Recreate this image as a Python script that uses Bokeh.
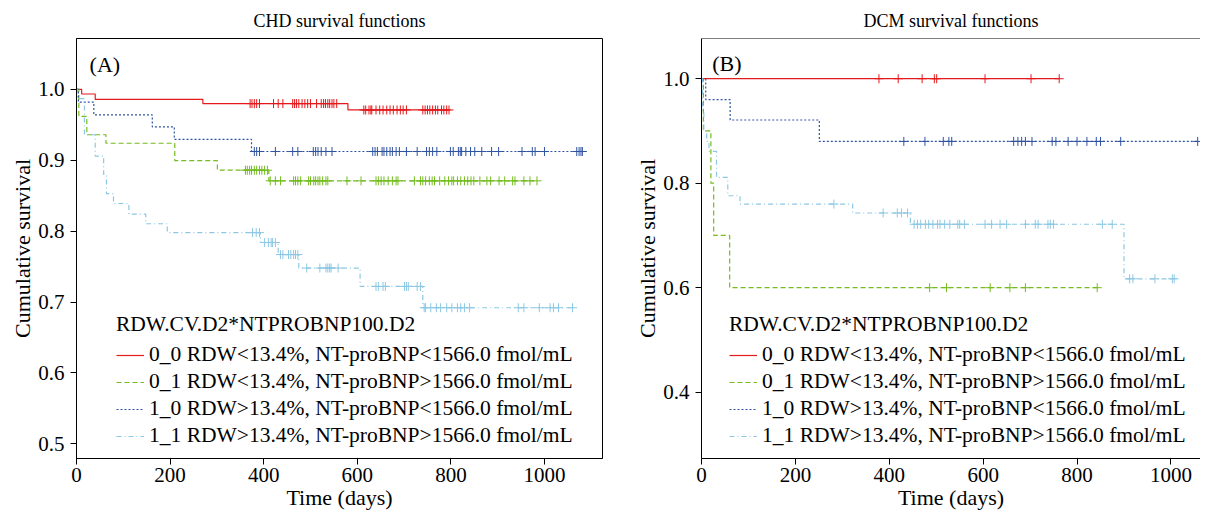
from bokeh.plotting import figure
from bokeh.models import Range1d, Legend, LegendItem, Label, Span, PrintfTickFormatter, FixedTicker
from bokeh.layouts import row
from bokeh.embed import file_html
from bokeh.resources import INLINE

FONT = "Liberation Serif"

group_labels = [
    "0_0 RDW<13.4%, NT-proBNP<1566.0 fmol/mL",
    "0_1 RDW<13.4%, NT-proBNP>1566.0 fmol/mL",
    "1_0 RDW>13.4%, NT-proBNP<1566.0 fmol/mL",
    "1_1 RDW>13.4%, NT-proBNP>1566.0 fmol/mL",
]
group_colors = ["#E41A1C", "#74BC1F", "#2F53A0", "#8CC8E4"]
group_dashes = ["solid", "5 3", "2 2", "5 3 1 3"]
legend_title = "RDW.CV.D2*NTPROBNP100.D2"

x_ticks = [0, 200, 400, 600, 800, 1000]
chd_y_ticks = [0.5, 0.6, 0.7, 0.8, 0.9, 1.0]
dcm_y_ticks = [0.4, 0.6, 0.8, 1.0]

# ---------------- CHD ----------------
chd_00_times = [11, 40, 270, 580]
chd_00_surv = [0.9935, 0.986, 0.980, 0.971]
chd_00_cens = [371, 375, 380, 385, 391, 421, 431, 441, 462, 466, 470, 475, 482, 488, 494, 500,
               513, 523, 528, 532, 537, 541, 546, 550, 556,
               614, 618, 625, 629, 631, 640, 648, 655, 663, 670, 677, 685, 692, 698, 705,
               740, 745, 750, 755, 761, 767, 772, 780, 785, 791, 796]

chd_01_times = [5, 22, 63, 210, 301, 411]
chd_01_surv = [0.962, 0.936, 0.924, 0.8995, 0.886, 0.871]
chd_01_cens = [361, 365, 370, 374, 380, 385, 391, 396, 402, 408,
               414, 425, 436, 464, 468, 473, 479, 496, 500, 507, 511, 516, 520, 526, 533, 537,
               578, 608, 640, 645, 651, 657, 666, 675, 683, 687, 722, 735, 740, 746, 754, 760,
               765, 776, 787, 795, 802, 806, 814, 821, 829, 836, 843, 849, 862, 877, 885, 903,
               915, 932, 937, 956, 969, 984]

chd_10_times = [4, 37, 162, 209, 374]
chd_10_surv = [0.982, 0.964, 0.947, 0.9295, 0.9124]
chd_10_cens = [380, 385, 391, 425, 462, 473, 506, 511, 516, 523, 533, 546, 633, 638, 643, 653,
               657, 663, 670, 675, 683, 690, 705, 728, 748, 754, 761, 770, 799, 805, 816, 820,
               823, 832, 842, 851, 866, 887, 902, 952, 974, 980, 1000, 1069, 1074, 1078, 1081]

chd_11_times = [2, 17, 40, 58, 64, 79, 112, 148, 194, 393, 431, 475, 606, 740]
chd_11_surv = [0.987, 0.936, 0.906, 0.88, 0.853, 0.839, 0.824, 0.8105, 0.798,
               0.784, 0.767, 0.748, 0.722, 0.692]
chd_11_cens = [376, 384, 391, 402, 410, 416, 419, 425, 436, 441, 453, 458, 464, 468, 473,
               492, 520, 533, 537, 541, 544, 559, 640, 645, 655, 660, 701, 705, 709, 728, 735,
               743, 746, 757, 769, 778, 791, 802, 814, 821, 829, 840, 944, 956, 989, 1012,
               1019, 1030, 1060]

# ---------------- DCM ----------------
dcm_00_times = []
dcm_00_surv = []
dcm_00_cens = [378, 419, 470, 496, 501, 604, 702, 762]

dcm_01_times = [4, 20, 26, 60]
dcm_01_surv = [0.90, 0.80, 0.70, 0.60]
dcm_01_cens = [486, 522, 615, 657, 690, 843]

dcm_10_times = [9, 61, 251]
dcm_10_surv = [0.96, 0.921, 0.880]
dcm_10_cens = [431, 476, 515, 527, 533, 665, 674, 682, 690, 704, 747, 755, 781, 800, 821,
               841, 850, 893, 1057]

dcm_11_times = [2, 5, 11, 16, 32, 56, 82, 322, 445, 900]
dcm_11_surv = [0.94, 0.90, 0.88, 0.861, 0.811, 0.776, 0.760, 0.743, 0.7214, 0.617]
dcm_11_cens = [282, 387, 417, 426, 439, 453, 460, 467, 477, 484, 493, 503, 508, 518, 529,
               546, 550, 560, 604, 618, 636, 650, 690, 711, 717, 738, 743, 750, 854, 875,
               912, 919, 966, 1003, 1007]

chd_groups = [
    (chd_00_times, chd_00_surv, chd_00_cens),
    (chd_01_times, chd_01_surv, chd_01_cens),
    (chd_10_times, chd_10_surv, chd_10_cens),
    (chd_11_times, chd_11_surv, chd_11_cens),
]
dcm_groups = [
    (dcm_00_times, dcm_00_surv, dcm_00_cens),
    (dcm_01_times, dcm_01_surv, dcm_01_cens),
    (dcm_10_times, dcm_10_surv, dcm_10_cens),
    (dcm_11_times, dcm_11_surv, dcm_11_cens),
]

HEIGHT = 512
TOP = 38
BOTTOM = 54


def surv_at(t, times, surv):
    s = 1.0
    for tt, ss in zip(times, surv):
        if tt <= t:
            s = ss
    return s


def style_axes(p, yticks):
    for ax in (p.xaxis[0], p.yaxis[0]):
        ax.axis_line_color = "black"
        ax.axis_line_width = 1
        ax.major_tick_line_color = "black"
        ax.major_tick_out = 6
        ax.major_tick_in = 0
        ax.minor_tick_line_color = None
        ax.major_label_text_font = FONT
        ax.major_label_text_font_size = "21px"
        ax.major_label_text_color = "black"
        ax.axis_label_text_font = FONT
        ax.axis_label_text_font_size = "22px"
        ax.axis_label_text_font_style = "normal"
        ax.axis_label_text_color = "black"
    p.xaxis[0].ticker = FixedTicker(ticks=x_ticks)
    p.yaxis[0].ticker = FixedTicker(ticks=yticks)
    p.yaxis[0].formatter = PrintfTickFormatter(format="%.1f")
    p.xaxis[0].major_label_standoff = 3
    p.xaxis[0].axis_label_standoff = 0
    p.yaxis[0].major_label_standoff = 6
    p.yaxis[0].axis_label_standoff = 0
    p.xaxis.axis_label = "Time (days)"
    p.yaxis.axis_label = "Cumulative survival"
    p.xgrid.grid_line_color = None
    p.ygrid.grid_line_color = None
    p.title.text_font = FONT
    p.title.text_font_size = "18px"
    p.title.text_font_style = "normal"
    p.title.text_color = "black"
    p.title.align = "center"
    p.title.standoff = 15


def draw_groups(p, groups):
    items = []
    for (times, surv, cens), lab, col, dash in zip(groups, group_labels, group_colors, group_dashes):
        end = max(cens)
        xs = [0] + list(times) + [end]
        ys = [1.0] + list(surv) + [surv[-1] if surv else 1.0]
        r = p.step(xs, ys, mode="after", line_color=col, line_width=1.2, line_dash=dash)
        cy = [surv_at(t, times, surv) for t in cens]
        p.scatter(cens, cy, marker="cross", size=9, line_color=col, line_width=1)
        items.append(LegendItem(label=lab, renderers=[r]))
    return items


def make_legend(p, items, xoff):
    lg = Legend(items=items, location=(xoff, 10))
    lg.title = legend_title
    lg.title_text_font = FONT
    lg.title_text_font_size = "21.5px"
    lg.title_text_font_style = "normal"
    lg.title_text_color = "black"
    lg.title_standoff = 5
    lg.label_text_font = FONT
    lg.label_text_font_size = "21.5px"
    lg.label_text_color = "black"
    lg.glyph_width = 28
    lg.glyph_height = 22
    lg.label_height = 22
    lg.spacing = 2
    lg.padding = 4
    lg.margin = 0
    lg.label_standoff = 5
    lg.border_line_color = None
    lg.background_fill_alpha = 0
    p.add_layout(lg)


# Left panel
p1 = figure(width=617, height=HEIGHT, x_range=Range1d(0, 1124), y_range=Range1d(0.4793, 1.0718),
            output_backend="svg", toolbar_location=None, title="CHD survival functions",
            min_border_left=76, min_border_right=15, min_border_top=TOP, min_border_bottom=BOTTOM)
style_axes(p1, chd_y_ticks)
p1.outline_line_color = "black"
p1.outline_line_alpha = 1
p1.outline_line_width = 1
items1 = draw_groups(p1, chd_groups)
make_legend(p1, items1, 40)
p1.add_layout(Label(x=28, y=1.035, text="(A)", text_font=FONT, text_font_size="22px",
                    text_color="black", text_baseline="middle", text_align="left"))

# Right panel
p2 = figure(width=583, height=HEIGHT, x_range=Range1d(0, 1063), y_range=Range1d(0.273, 1.077),
            output_backend="svg", toolbar_location=None, title="DCM survival functions",
            min_border_left=84, min_border_right=0, min_border_top=TOP, min_border_bottom=BOTTOM)
style_axes(p2, dcm_y_ticks)
p2.outline_line_color = None
p2.add_layout(Span(location=1.077, dimension="width", line_color="black", line_width=1))
items2 = draw_groups(p2, dcm_groups)
make_legend(p2, items2, 28)
p2.add_layout(Label(x=23, y=1.029, text="(B)", text_font=FONT, text_font_size="22px",
                    text_color="black", text_baseline="middle", text_align="left"))

layout = row(p1, p2)
open("out.html", "w").write(file_html(layout, INLINE))
